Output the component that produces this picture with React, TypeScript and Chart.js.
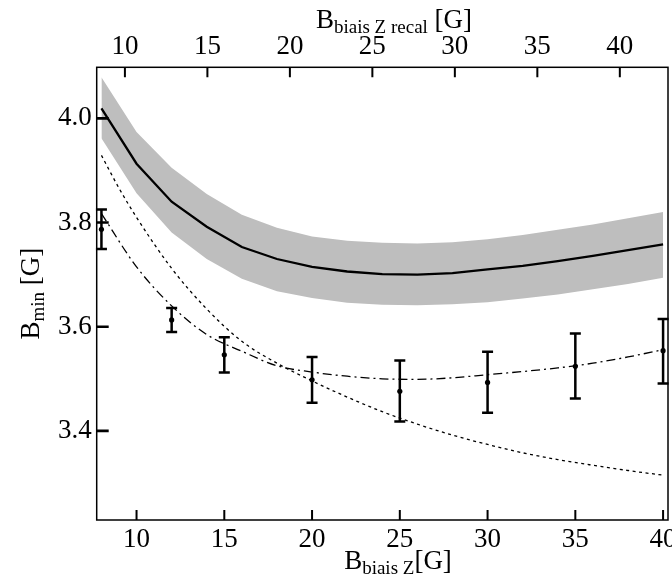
import React, { useEffect, useRef } from "react";
import { Chart, registerables } from "chart.js";

Chart.register(...registerables);

const FONT = '"Liberation Serif", "Times New Roman", serif';

// axis ticks
const bottomTicks = [10, 15, 20, 25, 30, 35, 40];
const topTicks = [10, 15, 20, 25, 30, 35, 40];
const yTicks = [3.4, 3.6, 3.8, 4.0];

// model curve (solid) with its grey band
const modelX = [8, 10, 12, 14, 16, 18, 20, 22, 24, 26, 28, 30, 32, 34, 36, 38, 40];
const modelMid = [4.019, 3.913, 3.840, 3.792, 3.753, 3.730, 3.715, 3.706, 3.701, 3.700, 3.703, 3.710, 3.717, 3.726, 3.736, 3.747, 3.758];
const modelUpper = [4.079, 3.974, 3.905, 3.855, 3.815, 3.790, 3.773, 3.765, 3.761, 3.760, 3.762, 3.768, 3.776, 3.786, 3.796, 3.808, 3.820];
const modelLower = [3.962, 3.856, 3.781, 3.730, 3.692, 3.668, 3.655, 3.646, 3.642, 3.641, 3.643, 3.647, 3.654, 3.662, 3.672, 3.682, 3.694];

// dotted curve
const dottedX = [8, 9, 10, 12, 14, 16, 18, 20, 22, 24, 26, 28, 30, 32, 34, 36, 38, 40];
const dottedY = [3.929, 3.866, 3.810, 3.712, 3.634, 3.572, 3.530, 3.496, 3.465, 3.437, 3.413, 3.392, 3.374, 3.358, 3.345, 3.334, 3.324, 3.315];

// dash-dot fit curve
const dashDotX = [8, 10, 12, 14, 16, 18, 20, 22, 24, 26, 28, 30, 32, 34, 36, 38, 40];
const dashDotY = [3.817, 3.715, 3.640, 3.585, 3.553, 3.525, 3.513, 3.505, 3.500, 3.499, 3.502, 3.508, 3.514, 3.521, 3.530, 3.542, 3.556];

// measurements with error bars
const measX = [8, 12, 15, 20, 25, 30, 35, 40];
const measY = [3.787, 3.613, 3.546, 3.498, 3.476, 3.493, 3.524, 3.554];
const measLow = [3.749, 3.590, 3.512, 3.454, 3.418, 3.435, 3.462, 3.491];
const measHigh = [3.825, 3.636, 3.580, 3.542, 3.535, 3.552, 3.587, 3.615];

const pts = (xs: number[], ys: number[]) => xs.map((x, i) => ({ x, y: ys[i] }));

type Part = [string, number, number];

function drawRich(ctx: CanvasRenderingContext2D, parts: Part[], x: number, y: number) {
  let total = 0;
  parts.forEach((p) => {
    ctx.font = `${p[1]}px ${FONT}`;
    total += ctx.measureText(p[0]).width;
  });
  let cx = x - total / 2;
  parts.forEach((p) => {
    ctx.font = `${p[1]}px ${FONT}`;
    ctx.fillText(p[0], cx, y + p[2]);
    cx += ctx.measureText(p[0]).width;
  });
}

const decorPlugin = {
  id: "decor",
  beforeDatasetsDraw(chart: any) {
    const { ctx, scales } = chart;
    const x = scales.x;
    const y = scales.y;
    ctx.save();
    ctx.strokeStyle = "#000";
    ctx.lineWidth = 2.5;
    measX.forEach((v, i) => {
      const px = x.getPixelForValue(v);
      const lo = y.getPixelForValue(measLow[i]);
      const hi = y.getPixelForValue(measHigh[i]);
      ctx.beginPath();
      ctx.moveTo(px, lo);
      ctx.lineTo(px, hi);
      ctx.moveTo(px - 5.5, lo);
      ctx.lineTo(px + 5.5, lo);
      ctx.moveTo(px - 5.5, hi);
      ctx.lineTo(px + 5.5, hi);
      ctx.stroke();
    });
    ctx.restore();
  },
  afterDraw(chart: any) {
    const { ctx, chartArea: a, scales } = chart;
    ctx.save();
    ctx.strokeStyle = "#000";
    ctx.fillStyle = "#000";
    // ticks (inward)
    ctx.lineWidth = 2;
    ctx.beginPath();
    bottomTicks.forEach((v) => {
      const px = scales.x.getPixelForValue(v);
      ctx.moveTo(px, a.bottom);
      ctx.lineTo(px, a.bottom - 10);
    });
    topTicks.forEach((v) => {
      const px = scales.x2.getPixelForValue(v);
      ctx.moveTo(px, a.top);
      ctx.lineTo(px, a.top + 10);
    });
    ctx.stroke();
    ctx.lineWidth = 2.6;
    ctx.beginPath();
    yTicks.forEach((v) => {
      const py = scales.y.getPixelForValue(v);
      ctx.moveTo(a.left, py);
      ctx.lineTo(a.left + 12, py);
    });
    ctx.stroke();
    // frame
    ctx.lineWidth = 1.5;
    ctx.strokeRect(a.left, a.top, a.right - a.left, a.bottom - a.top);
    // axis titles
    ctx.textBaseline = "alphabetic";
    drawRich(ctx, [["B", 27, 0], ["biais Z recal", 19, 5], [" [G]", 27, 0]], 394, 28);
    drawRich(ctx, [["B", 27, 0], ["biais Z", 19, 5], ["[G]", 27, 0]], 398, 569);
    ctx.save();
    ctx.translate(39, (a.top + a.bottom) / 2);
    ctx.rotate(-Math.PI / 2);
    drawRich(ctx, [["B", 27, 0], ["min", 19, 5], [" [G]", 27, 0]], 0, 0);
    ctx.restore();
    ctx.restore();
  },
};

const noPad = (s: any) => {
  s.paddingLeft = 0;
  s.paddingRight = 0;
  s.paddingTop = 0;
  s.paddingBottom = 0;
};

export default function App() {
  const ref = useRef<HTMLCanvasElement>(null);
  useEffect(() => {
    if (!ref.current) return;
    const tickFont = { family: FONT, size: 27 };
    const chart = new Chart(ref.current, {
      type: "line",
      data: {
        datasets: [
          {
            data: pts(modelX, modelUpper),
            borderWidth: 0,
            borderColor: "rgba(0,0,0,0)",
            backgroundColor: "#bebebe",
            pointRadius: 0,
            fill: "+1",
            order: 10,
            xAxisID: "x",
          },
          {
            data: pts(modelX, modelLower),
            borderWidth: 0,
            borderColor: "rgba(0,0,0,0)",
            pointRadius: 0,
            fill: false,
            order: 9,
            xAxisID: "x",
          },
          {
            data: pts(modelX, modelMid),
            borderColor: "#000",
            borderWidth: 2.3,
            pointRadius: 0,
            fill: false,
            order: 3,
            xAxisID: "x",
          },
          {
            data: pts(dottedX, dottedY),
            borderColor: "#000",
            borderWidth: 1.3,
            borderDash: [3, 3.5],
            pointRadius: 0,
            fill: false,
            cubicInterpolationMode: "monotone",
            order: 4,
            xAxisID: "x",
          },
          {
            data: pts(dashDotX, dashDotY),
            borderColor: "#000",
            borderWidth: 1.3,
            borderDash: [9, 4, 2, 4],
            pointRadius: 0,
            fill: false,
            cubicInterpolationMode: "monotone",
            order: 5,
            xAxisID: "x",
          },
          {
            type: "scatter",
            data: pts(measX, measY),
            backgroundColor: "#000",
            borderColor: "#000",
            pointRadius: 2.6,
            borderWidth: 0,
            order: 1,
            xAxisID: "x",
            clip: false,
          } as any,
        ],
      },
      options: {
        animation: false,
        responsive: false,
        events: [],
        layout: { padding: { left: 0, right: 2, top: 0, bottom: 0 } },
        plugins: { legend: { display: false }, tooltip: { enabled: false } },
        scales: {
          x: {
            type: "linear",
            position: "bottom",
            min: 7.73,
            max: 40.28,
            grid: { display: false, drawTicks: false },
            border: { display: false },
            ticks: { font: tickFont, color: "#000", padding: 4, maxRotation: 0 },
            afterBuildTicks: (s: any) => {
              s.ticks = bottomTicks.map((v) => ({ value: v }));
            },
            afterFit: (s: any) => {
              s.height = 57;
              noPad(s);
            },
          },
          x2: {
            type: "linear",
            position: "top",
            min: 8.29,
            max: 42.92,
            grid: { display: false, drawTicks: false },
            border: { display: false },
            ticks: { font: tickFont, color: "#000", padding: 4, maxRotation: 0 },
            afterBuildTicks: (s: any) => {
              s.ticks = topTicks.map((v) => ({ value: v }));
            },
            afterFit: (s: any) => {
              s.height = 67.3;
              noPad(s);
            },
          },
          y: {
            type: "linear",
            min: 3.229,
            max: 4.098,
            grid: { display: false, drawTicks: false },
            border: { display: false },
            ticks: {
              font: tickFont,
              color: "#000",
              padding: 5,
              callback: (v: any) => Number(v).toFixed(1),
            },
            afterBuildTicks: (s: any) => {
              s.ticks = yTicks.map((v) => ({ value: v }));
            },
            afterFit: (s: any) => {
              s.width = 96.7;
              noPad(s);
            },
          },
        },
      } as any,
      plugins: [decorPlugin],
    });
    return () => chart.destroy();
  }, []);
  return (
    <div style={{ position: "absolute", left: 0, top: 0, width: 672, height: 577, background: "#fff" }}>
      <canvas ref={ref} width={672} height={577} />
    </div>
  );
}
